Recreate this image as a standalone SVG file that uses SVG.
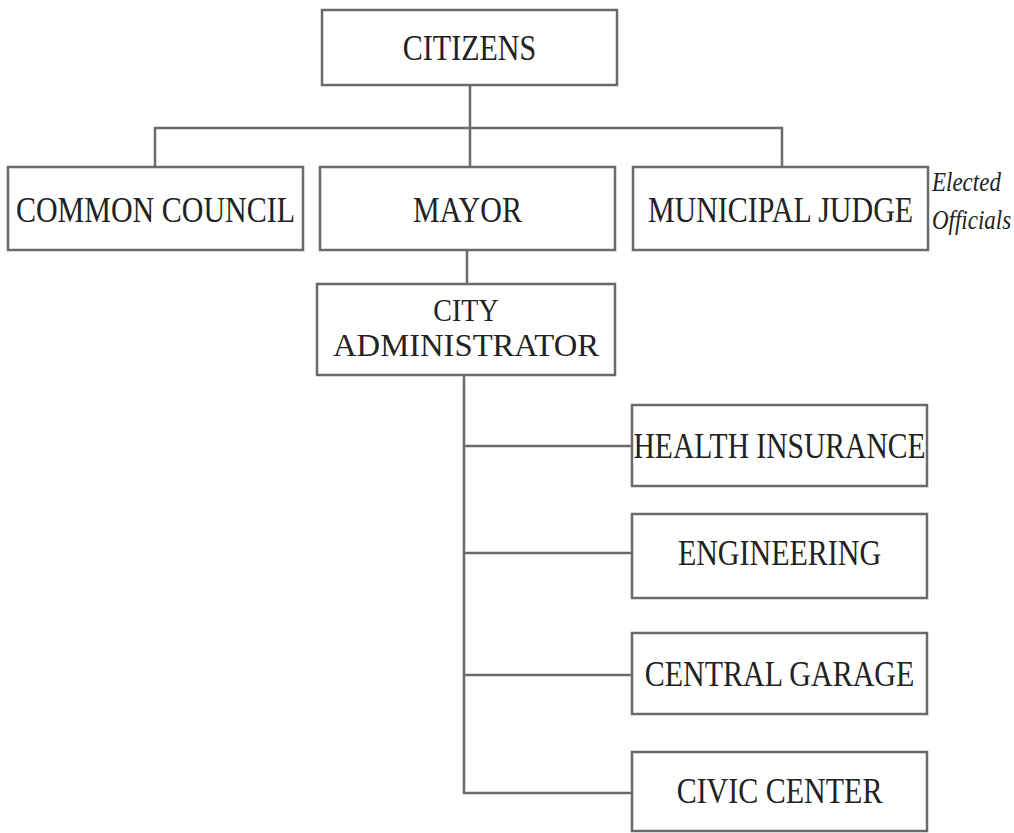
<svg xmlns="http://www.w3.org/2000/svg" width="1014" height="833" viewBox="0 0 1014 833">
<style>
.box{fill:#fff;stroke:#6a6a6a;stroke-width:2.5}
.conn{fill:none;stroke:#6a6a6a;stroke-width:2.5}
.t{font-family:"Liberation Serif","Times New Roman",serif;font-size:30px;fill:#222;text-anchor:middle}
.it{font-family:"Liberation Serif","Times New Roman",serif;font-size:23px;font-style:italic;fill:#222}
</style>
<rect width="1014" height="833" fill="#fff"/>
<g id="connectors">
<path class="conn" d="M470 85V128M155 167V128H782V167M470 128V167"/>
<path class="conn" d="M467 250V284"/>
<path class="conn" d="M464 375V793H632M464 446H632M464 553H632M464 675H632"/>
</g>
<g id="citizens"><rect class="box" x="322" y="10" width="295" height="75"/><text class="t" transform="translate(469.5,60) scale(1,1.2)">CITIZENS</text></g>
<g id="common-council"><rect class="box" x="8" y="167" width="295" height="83"/><text class="t" transform="translate(155.5,222) scale(1,1.2)">COMMON COUNCIL</text></g>
<g id="mayor"><rect class="box" x="320" y="167" width="295" height="83"/><text class="t" transform="translate(467.5,222) scale(1,1.2)">MAYOR</text></g>
<g id="municipal-judge"><rect class="box" x="633" y="167" width="295" height="83"/><text class="t" transform="translate(780.5,222) scale(1,1.2)">MUNICIPAL JUDGE</text></g>
<g id="elected-officials"><text class="it" transform="translate(932,191) scale(1,1.15)">Elected</text><text class="it" transform="translate(932,229) scale(1,1.15)">Officials</text></g>
<g id="city-administrator"><rect class="box" x="317" y="284" width="298" height="91"/><text class="t" style="font-size:28px" transform="translate(466,321) scale(1,1.1)">CITY</text><text class="t" style="font-size:28px" transform="translate(466,356) scale(1,1.1)" textLength="266" lengthAdjust="spacingAndGlyphs">ADMINISTRATOR</text></g>
<g id="health-insurance"><rect class="box" x="632" y="405" width="295" height="81"/><text class="t" transform="translate(779.5,458) scale(1,1.2)" textLength="292" lengthAdjust="spacingAndGlyphs">HEALTH INSURANCE</text></g>
<g id="engineering"><rect class="box" x="632" y="514" width="295" height="84"/><text class="t" transform="translate(779.5,565) scale(1,1.2)">ENGINEERING</text></g>
<g id="central-garage"><rect class="box" x="632" y="633" width="295" height="81"/><text class="t" transform="translate(779.5,686) scale(1,1.2)">CENTRAL GARAGE</text></g>
<g id="civic-center"><rect class="box" x="632" y="752" width="295" height="79"/><text class="t" transform="translate(779.5,803) scale(1,1.2)">CIVIC CENTER</text></g>
</svg>
